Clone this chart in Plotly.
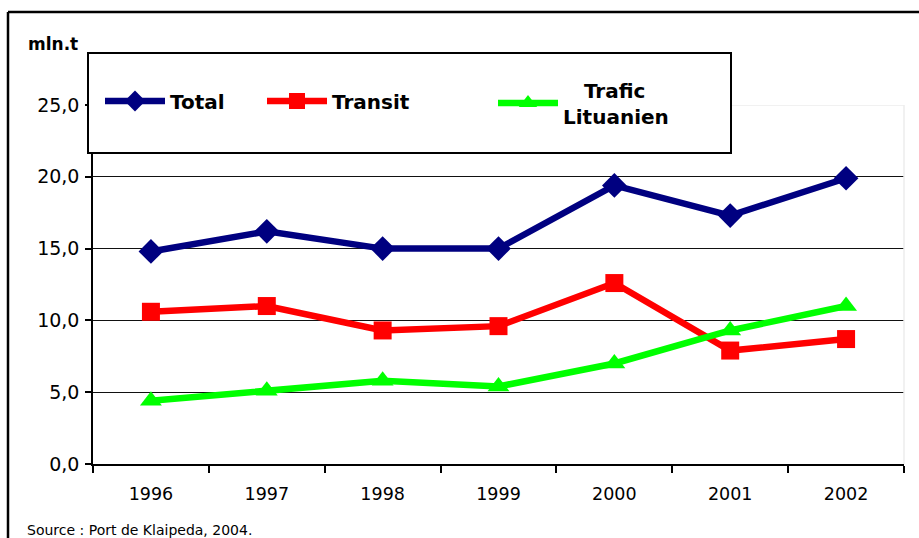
import plotly.graph_objects as go

years = ["1996", "1997", "1998", "1999", "2000", "2001", "2002"]
total = [14.8, 16.2, 15.0, 15.0, 19.4, 17.3, 19.9]
transit = [10.6, 11.0, 9.3, 9.6, 12.6, 7.9, 8.7]
trafic = [4.4, 5.1, 5.8, 5.4, 7.0, 9.3, 11.0]
y_ticks = [0, 5, 10, 15, 20, 25]

W, H = 919, 538
L, R, T, B = 93, 904, 105, 464


def px_x(x):
    return (x - L) / (R - L)


def px_y(y):
    return (B - y) / (B - T)


FONT = "DejaVu Sans"

fig = go.Figure()
fig.add_trace(go.Scatter(
    x=years, y=total, name="Total", mode="lines+markers",
    line=dict(color="#000080", width=6.5),
    marker=dict(symbol="diamond", size=19, color="#000080", line=dict(width=0)),
    legend="legend",
))
fig.add_trace(go.Scatter(
    x=years, y=transit, name="Transit", mode="lines+markers",
    line=dict(color="#ff0000", width=6.5),
    marker=dict(symbol="square", size=18, color="#ff0000", line=dict(width=0)),
    legend="legend2",
))
fig.add_trace(go.Scatter(
    x=years, y=trafic, name="\u00a0\u00a0\u00a0Trafic<br>Lituanien", mode="lines+markers",
    line=dict(color="#00ff00", width=6.5),
    marker=dict(symbol="triangle-up", size=19, color="#00ff00", line=dict(width=0)),
    legend="legend3",
))

shapes = [
    # faint plot-area border (top and right)
    dict(type="line", xref="paper", yref="y", x0=0, x1=1, y0=25, y1=25,
         line=dict(color="#ececec", width=1.5), layer="above"),
    dict(type="line", xref="paper", yref="y", x0=1, x1=1, y0=0, y1=25,
         line=dict(color="#ececec", width=1.5), layer="above"),
    # legend frame
    dict(type="rect", xref="paper", yref="paper",
         x0=px_x(88), x1=px_x(731), y0=px_y(153), y1=px_y(53),
         fillcolor="white", line=dict(color="black", width=2), layer="above"),
    # outer frame (left and top edges)
    dict(type="line", xref="paper", yref="paper",
         x0=px_x(8), x1=px_x(8), y0=px_y(12), y1=px_y(560),
         line=dict(color="black", width=2.5), layer="above"),
    dict(type="line", xref="paper", yref="paper",
         x0=px_x(8), x1=px_x(940), y0=px_y(12), y1=px_y(12),
         line=dict(color="black", width=2.5), layer="above"),
]

annotations = [
    dict(text="<b>mln.t</b>", xref="paper", yref="paper", x=px_x(26), y=px_y(44),
         xanchor="left", yanchor="middle", showarrow=False,
         font=dict(family=FONT, size=17, color="black")),
    dict(text="Source : Port de Klaipeda, 2004.", xref="paper", yref="paper",
         x=px_x(25), y=px_y(530), xanchor="left", yanchor="middle", showarrow=False,
         font=dict(family=FONT, size=14, color="black")),
]


def legend_at(xpx, ypx):
    return dict(
        orientation="h", x=px_x(xpx), y=px_y(ypx), xanchor="left", yanchor="middle",
        bgcolor="rgba(0,0,0,0)", borderwidth=0, itemwidth=60, valign="middle",
        font=dict(family=FONT, size=20, color="black", weight="bold"),
        itemclick=False, itemdoubleclick=False,
    )


fig.update_layout(
    width=W, height=H,
    margin=dict(l=L, r=W - R, t=T, b=H - B, pad=0),
    paper_bgcolor="white", plot_bgcolor="white",
    separators=", ",
    font=dict(family=FONT, color="black"),
    showlegend=True,
    legend=legend_at(100, 101),
    legend2=legend_at(262, 101),
    legend3=legend_at(493, 103),
    shapes=shapes,
    annotations=annotations,
    xaxis=dict(
        type="category", range=[-0.5, 6.5], tickson="boundaries",
        ticks="outside", ticklen=7, tickwidth=1.5, tickcolor="black",
        showline=True, linecolor="black", linewidth=2, showgrid=False,
        ticklabelstandoff=13,
        tickfont=dict(family=FONT, size=17.5, color="black"),
        fixedrange=True,
    ),
    yaxis=dict(
        range=[0, 25], tickvals=y_ticks, tickformat=".1f",
        ticks="outside", ticklen=6, tickwidth=1.5, tickcolor="black",
        showline=True, linecolor="black", linewidth=1.5,
        showgrid=True, gridcolor="#111111", gridwidth=1.3,
        zeroline=False, ticklabelstandoff=2,
        tickfont=dict(family=FONT, size=19, color="black"),
        fixedrange=True,
    ),
)

fig.write_html("out.html", post_script="document.body.style.margin='0';",
               config={"displayModeBar": False})
